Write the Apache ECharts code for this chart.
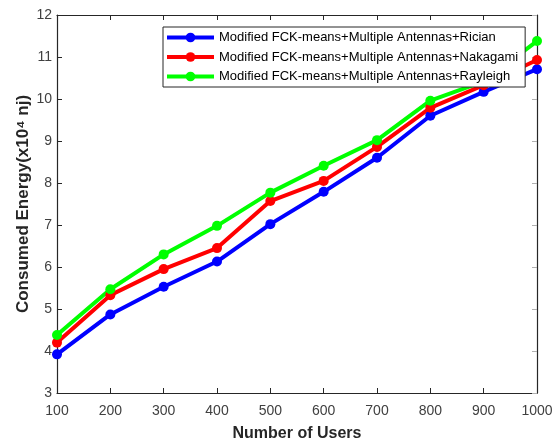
<!DOCTYPE html>
<html>
<head>
<meta charset="utf-8">
<script src="https://cdn.jsdelivr.net/npm/echarts@6/dist/echarts.min.js"></script>
<style>
  html, body { margin: 0; padding: 0; background: #fff; }
  #chart { width: 555px; height: 441px; }
</style>
</head>
<body>
<div id="chart"></div>
<script>
// Number of users on the x axis
const users = [100, 200, 300, 400, 500, 600, 700, 800, 900, 1000];

// Consumed energy (x10^4 nJ) per channel model
const rician   = [3.92, 4.87, 5.53, 6.13, 7.02, 7.79, 8.60, 9.60, 10.17, 10.71];
const nakagami = [4.20, 5.33, 5.95, 6.45, 7.57, 8.05, 8.86, 9.79, 10.33, 10.93];
const rayleigh = [4.38, 5.47, 6.30, 6.98, 7.77, 8.41, 9.02, 9.96, 10.42, 11.38];

const seriesNames = [
  'Modified FCK-means+Multiple Antennas+Rician',
  'Modified FCK-means+Multiple Antennas+Nakagami',
  'Modified FCK-means+Multiple Antennas+Rayleigh'
];
const seriesColors = ['#0000ff', '#ff0000', '#00ff00'];
const seriesValues = [rician, nakagami, rayleigh];

const font = '"Liberation Sans", Arial, sans-serif';
const axisColor = '#262626';

const chart = echarts.init(document.getElementById('chart'), null, { renderer: 'canvas' });

const series = seriesValues.map((vals, i) => ({
  name: seriesNames[i],
  type: 'line',
  xAxisIndex: 0,
  yAxisIndex: 0,
  data: users.map((u, k) => [u, vals[k]]),
  symbol: 'circle',
  symbolSize: 10,
  showSymbol: true,
  lineStyle: { width: 4, color: seriesColors[i] },
  itemStyle: { color: seriesColors[i] },
  z: 2,
  animation: false
}));

chart.setOption({
  backgroundColor: '#ffffff',
  animation: false,
  grid: { left: 57, right: 18, top: 15, bottom: 48, containLabel: false, outerBoundsMode: 'none' },
  legend: {
    orient: 'vertical',
    left: 163,
    top: 27,
    z: 20,
    padding: [4, 7, 4, 2],
    itemGap: 6.5,
    itemWidth: 47,
    itemHeight: 12,
    backgroundColor: '#ffffff',
    borderColor: '#262626',
    borderWidth: 1,
    data: seriesNames,
    lineStyle: { width: 4 },
    textStyle: { fontFamily: font, fontSize: 13, color: '#000' }
  },
  xAxis: [
    {
      type: 'value', min: 100, max: 1000, interval: 100,
      position: 'bottom',
      name: 'Number of Users',
      nameLocation: 'middle',
      nameGap: 33,
      nameMoveOverlap: false,
      nameTextStyle: { fontFamily: font, fontSize: 16, fontWeight: 'bold', color: '#262626' },
      axisLine: { show: true, lineStyle: { color: axisColor, width: 1.2 } },
      axisTick: { show: true, inside: true, length: 5, lineStyle: { color: axisColor } },
      axisLabel: { fontFamily: font, fontSize: 14, color: '#404040', margin: 11, formatter: v => String(v) },
      splitLine: { show: false }
    },
    {
      type: 'value', min: 100, max: 1000, interval: 100,
      position: 'top',
      axisLine: { show: true, lineStyle: { color: axisColor, width: 1.2 } },
      axisTick: { show: true, inside: true, length: 5, lineStyle: { color: axisColor } },
      axisLabel: { show: false },
      splitLine: { show: false }
    }
  ],
  yAxis: [
    {
      type: 'value', min: 3, max: 12, interval: 1,
      position: 'left',
      name: 'Consumed Energy(x10\u2074 nj)',
      nameLocation: 'middle',
      nameRotate: 90,
      nameGap: 25,
      nameMoveOverlap: false,
      nameTextStyle: { fontFamily: font, fontSize: 17, fontWeight: 'bold', color: '#262626' },
      axisLine: { show: true, lineStyle: { color: axisColor, width: 1.2 } },
      axisTick: { show: true, inside: true, length: 5, lineStyle: { color: axisColor } },
      axisLabel: { fontFamily: font, fontSize: 14, color: '#404040', margin: 5 },
      splitLine: { show: false }
    },
    {
      type: 'value', min: 3, max: 12, interval: 1,
      position: 'right',
      axisLine: { show: true, lineStyle: { color: axisColor, width: 1.2 } },
      axisTick: { show: true, inside: true, length: 5, lineStyle: { color: '#b0b0b0' } },
      axisLabel: { show: false },
      splitLine: { show: false }
    }
  ],
  series: series
});
</script>
</body>
</html>
